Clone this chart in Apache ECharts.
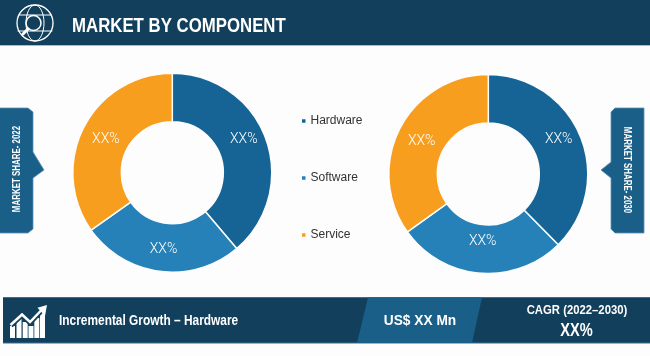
<!DOCTYPE html>
<html>
<head>
<meta charset="utf-8">
<style>
  html, body { margin: 0; padding: 0; background: #fdfdfd; }
  #chart { width: 650px; height: 356px; }
</style>
<script src="https://cdn.jsdelivr.net/npm/echarts@6/dist/echarts.min.js"></script>
</head>
<body>
<div id="chart"></div>
<script>
const components = ['Hardware', 'Software', 'Service']
const share2022 = [38.8, 26.4, 34.8]
const share2030 = [37.6, 27.5, 34.9]
const sliceLabel = 'XX%'
const titleText = 'MARKET BY COMPONENT'
const leftTabText = 'MARKET SHARE- 2022'
const rightTabText = 'MARKET SHARE- 2030'
const growthText = 'Incremental Growth \u2013 Hardware'
const moneyText = 'US$ XX Mn'
const cagrTitle = 'CAGR (2022\u20132030)'
const cagrValue = 'XX%'

const colors = ['#166496', '#2581b7', '#f89e1f']
const dark = '#123f5b'
const mid = '#1a5f88'
const edge = '#5b93b8'
const sans = '"Liberation Sans", sans-serif'

function donut(name, center, values, offsets) {
  return {
    name: name,
    type: 'pie',
    center: center,
    radius: [51, 99.5],
    startAngle: 90,
    clockwise: true,
    silent: true,
    itemStyle: { borderColor: '#fdfdfd', borderWidth: 1.5 },
    label: {
      position: 'inside',
      formatter: sliceLabel,
      color: '#fff',
      fontFamily: 'Roboto, sans-serif',
      fontWeight: 300,
      fontSize: 14
    },
    labelLine: { show: false },
    data: components.map((c, i) => ({
      name: c,
      value: values[i],
      itemStyle: { color: colors[i] },
      label: { offset: offsets[i] }
    }))
  }
}

// no condensed font is installed, so the narrow lettering is squeezed with scaleX
function text(x, y, str, size, squeeze, extra) {
  return {
    type: 'text',
    x: x,
    y: y,
    scaleX: squeeze,
    rotation: extra && extra.rotation ? extra.rotation : 0,
    style: {
      text: str,
      fill: '#fff',
      font: 'bold ' + size + 'px ' + sans,
      align: extra && extra.align ? extra.align : 'left',
      verticalAlign: 'middle'
    }
  }
}

function poly(points, fill, stroke) {
  return {
    type: 'polygon',
    shape: { points: points },
    style: { fill: fill, stroke: stroke || null, lineWidth: stroke ? 0.8 : 0 }
  }
}

function line(x1, y1, x2, y2, w) {
  return {
    type: 'line',
    shape: { x1: x1, y1: y1, x2: x2, y2: y2 },
    style: { stroke: '#fff', lineWidth: w, lineCap: 'round' }
  }
}

// globe with magnifier in the header
const globeIcon = [
  { type: 'circle', shape: { cx: 35, cy: 23, r: 18 }, style: { fill: 'none', stroke: '#fff', lineWidth: 1.3 } },
  { type: 'ellipse', shape: { cx: 35, cy: 23, rx: 9, ry: 18 }, style: { fill: 'none', stroke: '#fff', lineWidth: 1 } },
  line(19, 15, 51, 15, 1),
  line(18, 31, 52, 31, 1),
  { type: 'circle', shape: { cx: 33.5, cy: 23, r: 7.5 }, style: { fill: dark, stroke: '#fff', lineWidth: 1.5 } },
  line(28, 29, 23, 34, 3)
]

// rising bars with arrow in the footer
const growthIcon = [
  { x: 10, top: 326 }, { x: 16.5, top: 318 }, { x: 22.7, top: 322 },
  { x: 28.5, top: 326 }, { x: 34.3, top: 318 }, { x: 40, top: 312 }
].map(b => ({ type: 'rect', shape: { x: b.x, y: b.top, width: 5, height: 338 - b.top }, style: { fill: '#fff' } }))
const arrowLine = [[10.5, 325], [22, 314.5], [30, 322], [42, 309.5]]
growthIcon.push({
  type: 'polyline',
  shape: { points: arrowLine },
  style: { stroke: dark, lineWidth: 6, fill: 'none' }
})
growthIcon.push({
  type: 'polyline',
  shape: { points: arrowLine },
  style: { stroke: '#fff', lineWidth: 2.5, fill: 'none' }
})
growthIcon.push(poly([[47, 305], [45, 316], [37.5, 307.7]], '#fff'))

const graphics = [
  // header
  { type: 'rect', shape: { x: 0, y: 0, width: 650, height: 45 }, style: { fill: dark } },
  { type: 'rect', shape: { x: 0, y: 45, width: 650, height: 1 }, style: { fill: '#a9bcc8' } },
  ...globeIcon,
  text(72, 26, titleText, 21, 0.8),

  // side tabs
  poly([[-2, 108], [28, 108], [33, 112], [33, 152], [44, 170], [33, 178], [33, 229], [28, 233], [-2, 233]], mid, edge),
  text(17, 169, leftTabText, 11, 0.72, { rotation: Math.PI / 2, align: 'center' }),
  poly([[615, 108], [644, 108], [644, 233], [615, 233], [611, 229], [611, 178], [601, 170], [611, 162], [611, 112]], mid, edge),
  text(627, 170, rightTabText, 11, 0.72, { rotation: -Math.PI / 2, align: 'center' }),

  // footer
  { type: 'rect', shape: { x: 3, y: 297, width: 647, height: 46 }, style: { fill: dark } },
  { type: 'rect', shape: { x: 3, y: 297, width: 647, height: 1 }, style: { fill: '#3d6f8c' } },
  { type: 'rect', shape: { x: 3, y: 342.5, width: 647, height: 1 }, style: { fill: '#3d6f8c' } },
  poly([[368, 297.5], [482, 297.5], [472, 343], [357, 343]], mid),
  ...growthIcon,
  text(59, 321, growthText, 14, 0.85),
  text(420, 321, moneyText, 14, 0.98, { align: 'center' }),
  text(577, 310, cagrTitle, 13, 0.87, { align: 'center' }),
  text(576.5, 331, cagrValue, 19, 0.77, { align: 'center' })
]

const chart = echarts.init(document.getElementById('chart'), null, { renderer: 'canvas' })
chart.setOption({
  animation: false,
  backgroundColor: '#fdfdfd',
  legend: {
    orient: 'vertical',
    left: 300,
    top: 115,
    padding: 0,
    itemWidth: 5.5,
    itemHeight: 5.5,
    itemGap: 45,
    icon: 'rect',
    selectedMode: false,
    data: components,
    textStyle: {
      color: '#333',
      fontFamily: sans,
      fontSize: 12,
      padding: [0, 0, 0, -1]
    }
  },
  graphic: { elements: graphics },
  series: [
    donut('2022', [172.3, 172.7], share2022, [[-2, -6], [1, -1], [3, 3]]),
    donut('2030', [488.3, 174], share2030, [[-2, -5], [1, -10], [3, 3]])
  ]
})
</script>
</body>
</html>
